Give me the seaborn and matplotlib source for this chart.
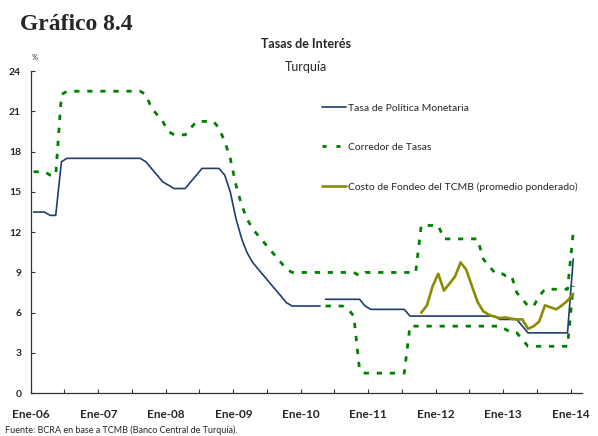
import numpy as np
import pandas as pd
import matplotlib
matplotlib.use("Agg")
import matplotlib.pyplot as plt
import matplotlib.dates as mdates
from matplotlib.lines import Line2D
import seaborn as sns

# --- datos mensuales (ene-2006 a ene-2014) ---
fechas = pd.date_range("2006-01-01", "2014-01-01", freq="MS") + pd.Timedelta(days=14)

# Tasa de politica monetaria: tramo O/N (ene-06 a abr-10) y repo 1 semana (may-10 en adelante)
tpm_on = [13.5, 13.5, 13.5, 13.25, 13.25, 17.25,
          17.5, 17.5, 17.5, 17.5, 17.5, 17.5, 17.5, 17.5, 17.5, 17.5, 17.5, 17.5, 17.5, 17.5,
          17.25, 16.75, 16.25, 15.75, 15.5, 15.25, 15.25, 15.25, 15.75, 16.25,
          16.75, 16.75, 16.75, 16.75, 16.25, 15.0,
          13.0, 11.5, 10.5, 9.75, 9.25, 8.75, 8.25, 7.75, 7.25, 6.75,
          6.5, 6.5, 6.5, 6.5, 6.5, 6.5]
tpm_repo = [7.0, 7.0, 7.0, 7.0, 7.0, 7.0, 7.0, 6.5,
            6.25, 6.25, 6.25, 6.25, 6.25, 6.25, 6.25,
            5.75, 5.75, 5.75, 5.75, 5.75, 5.75, 5.75, 5.75, 5.75, 5.75, 5.75, 5.75, 5.75, 5.75, 5.75, 5.75,
            5.5, 5.5, 5.5, 5.5, 5.0,
            4.5, 4.5, 4.5, 4.5, 4.5, 4.5, 4.5, 4.5, 10.0]

# Corredor de tasas: limite superior (todo el periodo) e inferior (desde may-10)
corredor_sup = [16.5, 16.5, 16.5, 16.25, 16.25, 22.25,
                22.5, 22.5, 22.5, 22.5, 22.5, 22.5, 22.5, 22.5, 22.5, 22.5, 22.5, 22.5, 22.5, 22.5,
                22.25, 21.25, 20.75, 20.25, 19.5, 19.25, 19.25, 19.25, 19.75,
                20.25, 20.25, 20.25, 20.25, 19.75, 18.75, 17.5,
                15.5, 14.0, 13.0, 12.25, 11.75, 11.25, 10.75, 10.25, 9.75, 9.25,
                9.0, 9.0, 9.0, 9.0, 9.0, 9.0, 9.0, 9.0, 9.0, 9.0, 9.0, 9.0, 8.75,
                9.0, 9.0, 9.0, 9.0, 9.0, 9.0, 9.0, 9.0, 9.0, 9.0,
                12.5, 12.5, 12.5, 12.5,
                11.5, 11.5, 11.5, 11.5, 11.5, 11.5, 11.5,
                10.0, 9.5, 9.0, 9.0, 8.75, 8.75, 7.5, 7.0, 6.5, 6.5, 7.25,
                7.75, 7.75, 7.75, 7.75, 7.75, 12.0]
corredor_inf = [6.5, 6.5, 6.5, 6.5, 6.25, 5.75, 1.75,
                1.5, 1.5, 1.5, 1.5, 1.5, 1.5, 1.5, 1.5,
                5.0, 5.0, 5.0, 5.0, 5.0, 5.0, 5.0, 5.0, 5.0, 5.0, 5.0, 5.0, 5.0, 5.0, 5.0, 5.0, 5.0,
                4.75, 4.5, 4.5, 4.0,
                3.5, 3.5, 3.5, 3.5, 3.5, 3.5, 3.5, 3.5, 8.0]

# Costo de fondeo del TCMB (promedio ponderado), desde oct-11
fondeo = [6.0, 6.55, 7.95, 8.9, 7.65, 8.15, 8.7, 9.75, 9.2, 8.0, 6.8, 6.1,
          5.85, 5.7, 5.6, 5.65, 5.55, 5.5, 5.5, 4.8, 5.0, 5.35, 6.55, 6.4,
          6.25, 6.55, 6.9, 7.4]

etiquetas = ["Tasa de Política Monetaria", "Corredor de Tasas",
             "Costo de Fondeo del TCMB (promedio ponderado)"]

AZUL = "#1f3d6e"
VERDE = "#008000"
OLIVA = "#8c8a00"
PUNTEADO = (0, (1.9, 2.8))

sns.set_style("ticks")
plt.rcParams["font.family"] = ["Lato", "DejaVu Sans"]

fig = plt.figure(figsize=(5.98, 4.36), dpi=100)
ax = fig.add_axes([0.0518, 0.098, 0.921, 0.739])

n_on = len(tpm_on)
n_inf = len(corredor_inf)
n_fon = len(fondeo)

sns.lineplot(x=fechas, y=corredor_sup, ax=ax, color=VERDE, linewidth=2.0, linestyle=PUNTEADO)
sns.lineplot(x=fechas[-n_inf:], y=corredor_inf, ax=ax, color=VERDE, linewidth=2.0, linestyle=PUNTEADO)
sns.lineplot(x=fechas[:n_on], y=tpm_on, ax=ax, color=AZUL, linewidth=1.2)
sns.lineplot(x=fechas[n_on:], y=tpm_repo, ax=ax, color=AZUL, linewidth=1.2)
sns.lineplot(x=fechas[-n_fon:], y=fondeo, ax=ax, color=OLIVA, linewidth=1.9)

ax.set_ylim(0, 24)
ax.set_yticks(np.arange(0, 25, 3))
ax.set_xlim(pd.Timestamp("2006-01-01"), pd.Timestamp("2014-03-02"))
ax.xaxis.set_major_locator(mdates.YearLocator())
ax.xaxis.set_minor_locator(mdates.MonthLocator(bymonth=7))
ax.xaxis.set_major_formatter(plt.FuncFormatter(
    lambda v, p: "Ene-" + mdates.num2date(v).strftime("%y")))
ax.set_xlabel("")
ax.set_ylabel("")

ax.tick_params(axis="both", which="both", direction="in", length=3, width=0.8, color="#333333")
ax.tick_params(axis="x", which="major", pad=11, labelsize=8.5)
ax.tick_params(axis="y", pad=7, labelsize=7.5)
for lab in ax.get_xticklabels() + ax.get_yticklabels():
    lab.set_fontweight("bold")

sns.despine(ax=ax)
for lado in ["left", "bottom"]:
    ax.spines[lado].set_linewidth(0.9)
    ax.spines[lado].set_color("#333333")

handles = [Line2D([], [], color=AZUL, linewidth=1.2),
           Line2D([], [], color=VERDE, linewidth=2.0, linestyle=(0, (1.5, 3.5))),
           Line2D([], [], color=OLIVA, linewidth=1.9)]
ax.legend(handles, etiquetas, loc="upper left", bbox_to_anchor=(0.528, 0.9),
          frameon=False, fontsize=7.5, handlelength=2.3, handletextpad=0.2,
          labelspacing=2.9, borderaxespad=0, borderpad=0)

fig.text(0.034, 0.943, "Gráfico 8.4", family="Liberation Serif", fontweight="bold",
         fontsize=17, va="center", ha="left")
fig.text(0.511, 0.9, "Tasas de Interés", fontweight="bold", fontsize=9, ha="center", va="center")
fig.text(0.511, 0.847, "Turquía", fontsize=9, ha="center", va="center")
fig.text(0.058, 0.867, "%", fontsize=5.5, ha="center", va="center")
fig.text(0.008, 0.014, "Fuente: BCRA en base a TCMB (Banco Central de Turquía).",
         fontsize=6.5, ha="left", va="center")

fig.savefig("out.png", dpi=100)
